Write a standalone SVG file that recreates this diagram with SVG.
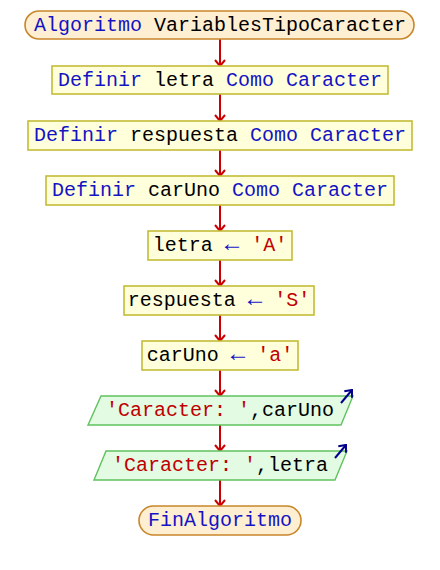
<svg xmlns="http://www.w3.org/2000/svg" width="440" height="570" viewBox="0 0 440 570">
  <style>
    text { font-family: "Liberation Mono", "Courier New", monospace; font-size: 20px; text-anchor: middle; fill: #000; }
    .kw { fill: #1414c4; }
    .str { fill: #c00000; }
    .arr { fill: #1414c4; font-size: 24px; }
    .term { fill: #ffefd2; stroke: #c8862a; stroke-width: 1.6; }
    .proc { fill: #ffffdc; stroke: #c4bc36; stroke-width: 1.6; }
    .out { fill: #e2fbe2; stroke: #5fc25f; stroke-width: 1.4; }
    .flow { stroke: #cc0000; stroke-width: 2; fill: none; marker-end: url(#chev); }
    .outarrow { stroke: #00008b; stroke-width: 2; fill: none; marker-end: url(#chevBlue); }
  </style>
  <defs>
    <marker id="chev" viewBox="0 0 10 12" refX="9" refY="6" markerWidth="10" markerHeight="12" markerUnits="userSpaceOnUse" orient="auto">
      <path d="M3,1 L9,6 L3,11" fill="none" stroke="#cc0000" stroke-width="2"/>
    </marker>
    <marker id="chevBlue" viewBox="0 0 10 12" refX="9" refY="6" markerWidth="10" markerHeight="12" markerUnits="userSpaceOnUse" orient="auto">
      <path d="M3,1 L9,6 L3,11" fill="none" stroke="#00008b" stroke-width="2"/>
    </marker>
  </defs>
  <rect width="440" height="570" fill="#ffffff"/>

  <!-- connectors -->
  <g id="connectors">
    <line class="flow" x1="220" y1="39" x2="220" y2="66"/>
    <line class="flow" x1="220" y1="94" x2="220" y2="121"/>
    <line class="flow" x1="220" y1="150" x2="220" y2="176"/>
    <line class="flow" x1="220" y1="205" x2="220" y2="231"/>
    <line class="flow" x1="220" y1="260" x2="220" y2="286"/>
    <line class="flow" x1="220" y1="315" x2="220" y2="341"/>
    <line class="flow" x1="220" y1="370" x2="220" y2="396"/>
    <line class="flow" x1="220" y1="425" x2="220" y2="451"/>
    <line class="flow" x1="220" y1="480" x2="220" y2="506"/>
  </g>

  <g id="start">
    <rect class="term" x="25" y="11" width="389" height="28" rx="14" ry="14"/>
    <text x="220" y="31"><tspan class="kw">Algoritmo</tspan> VariablesTipoCaracter</text>
  </g>

  <g id="def-letra">
    <rect class="proc" x="52" y="66" width="336" height="28"/>
    <text x="220" y="86"><tspan class="kw">Definir</tspan> letra <tspan class="kw">Como Caracter</tspan></text>
  </g>

  <g id="def-respuesta">
    <rect class="proc" x="28" y="121" width="384" height="29"/>
    <text x="220" y="141"><tspan class="kw">Definir</tspan> respuesta <tspan class="kw">Como Caracter</tspan></text>
  </g>

  <g id="def-caruno">
    <rect class="proc" x="46" y="176" width="348" height="29"/>
    <text x="220" y="196"><tspan class="kw">Definir</tspan> carUno <tspan class="kw">Como Caracter</tspan></text>
  </g>

  <g id="asig-letra">
    <rect class="proc" x="148" y="231" width="144" height="29"/>
    <text x="220" y="251">letra <tspan class="arr">←</tspan> <tspan class="str">'A'</tspan></text>
  </g>

  <g id="asig-respuesta">
    <rect class="proc" x="124" y="286" width="190" height="29"/>
    <text x="219" y="306">respuesta <tspan class="arr">←</tspan> <tspan class="str">'S'</tspan></text>
  </g>

  <g id="asig-caruno">
    <rect class="proc" x="142" y="341" width="156" height="29"/>
    <text x="220" y="361">carUno <tspan class="arr">←</tspan> <tspan class="str">'a'</tspan></text>
  </g>

  <g id="escribir-caruno">
    <polygon class="out" points="101,396 353,396 341,425 88,425"/>
    <text x="220" y="416"><tspan class="str">'Caracter: '</tspan>,carUno</text>
    <line class="outarrow" x1="341" y1="403" x2="352" y2="390"/>
  </g>

  <g id="escribir-letra">
    <polygon class="out" points="106,451 347,451 335,480 94,480"/>
    <text x="220" y="471"><tspan class="str">'Caracter: '</tspan>,letra</text>
    <line class="outarrow" x1="335" y1="458" x2="346" y2="445"/>
  </g>

  <g id="end">
    <rect class="term" x="139" y="506" width="162" height="29" rx="14.5" ry="14.5"/>
    <text x="220" y="526"><tspan class="kw">FinAlgoritmo</tspan></text>
  </g>
</svg>
